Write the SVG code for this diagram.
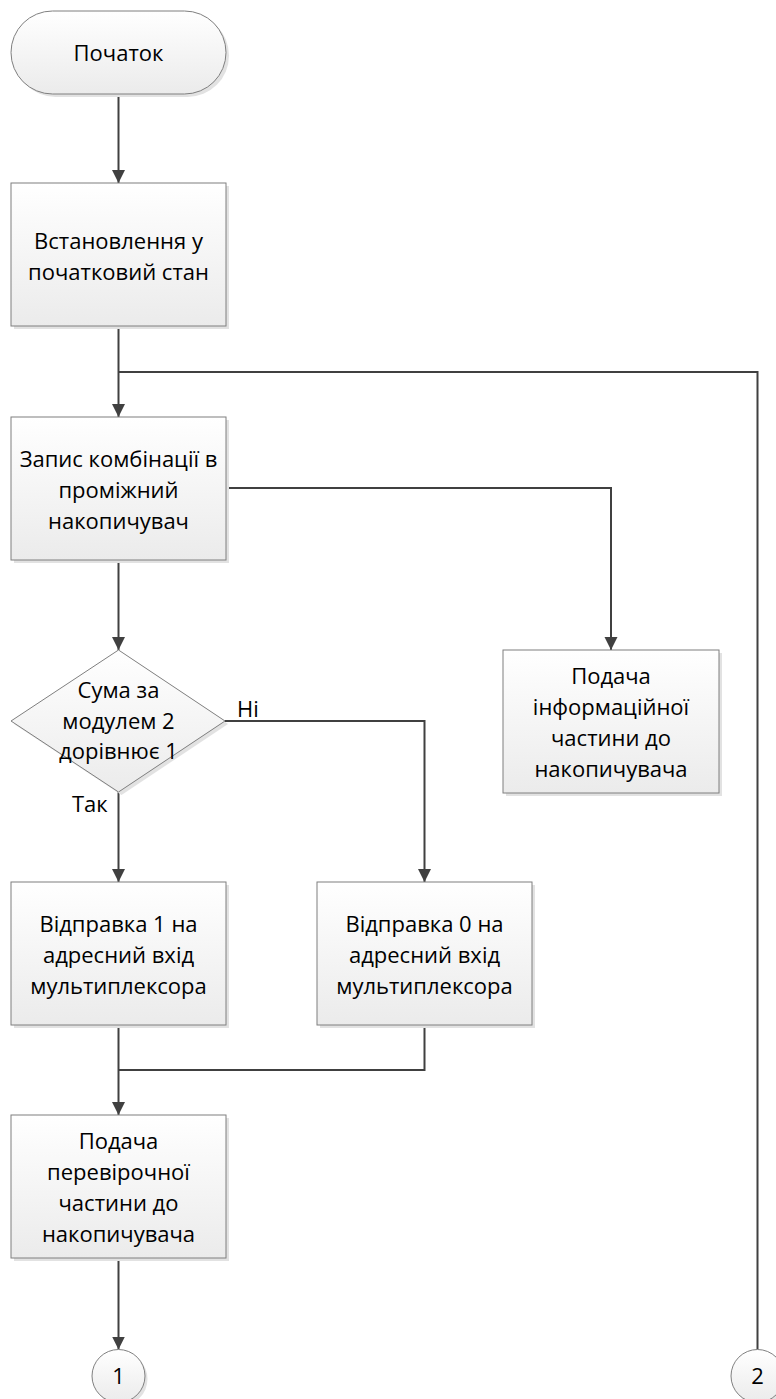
<svg xmlns="http://www.w3.org/2000/svg" width="776" height="1399" viewBox="0 0 776 1399">
  <style>
    .shape { fill: url(#fillGrad); stroke: #7f7f7f; stroke-width: 1; }
    .shadow { fill: #e2e2e2; }
    .label { font-family: "Open Sans", "Noto Sans", sans-serif; font-size: 22px; fill: #000; text-anchor: middle; }
    .tag { font-family: "Open Sans", "Noto Sans", sans-serif; font-size: 22px; fill: #000; }
    .wire { fill: none; stroke: #404040; stroke-width: 2; }
  </style>
  <defs>
    <linearGradient id="fillGrad" x1="0" y1="0" x2="0" y2="1">
      <stop offset="0" stop-color="#ffffff"/>
      <stop offset="1" stop-color="#ebebeb"/>
    </linearGradient>
    <marker id="arrow" markerUnits="userSpaceOnUse" markerWidth="14" markerHeight="14" refX="13" refY="6.5" orient="auto">
      <path d="M0,0 L13,6.5 L0,13 Z" fill="#404040"/>
    </marker>
  </defs>

  <!-- connectors -->
  <g id="connectors">
    <path class="wire" d="M118.5,94 V183" marker-end="url(#arrow)"/>
    <path class="wire" d="M118.5,326 V417" marker-end="url(#arrow)"/>
    <path class="wire" d="M118.5,372 H757.5 V1349.5"/>
    <path class="wire" d="M226,488 H611 V650" marker-end="url(#arrow)"/>
    <path class="wire" d="M118.5,560 V650" marker-end="url(#arrow)"/>
    <path class="wire" d="M225,721 H424.5 V882" marker-end="url(#arrow)"/>
    <path class="wire" d="M118.5,792 V882" marker-end="url(#arrow)"/>
    <path class="wire" d="M424.5,1025 V1070 H118.5"/>
    <path class="wire" d="M118.5,1025 V1115" marker-end="url(#arrow)"/>
    <path class="wire" d="M118.5,1258 V1349.5" marker-end="url(#arrow)"/>
  </g>

  <g id="start">
    <rect class="shadow" x="14" y="14" width="215" height="83" rx="41.5"/>
    <rect class="shape" x="11" y="11" width="215" height="83" rx="41.5"/>
    <text class="label" x="118.5" y="61">Початок</text>
  </g>

  <g id="init">
    <rect class="shadow" x="14" y="186" width="215" height="143"/>
    <rect class="shape" x="11" y="183" width="215" height="143"/>
    <text class="label" x="118.5" y="249">Встановлення у</text>
    <text class="label" x="118.5" y="280">початковий стан</text>
  </g>

  <g id="write">
    <rect class="shadow" x="14" y="420" width="215" height="143"/>
    <rect class="shape" x="11" y="417" width="215" height="143"/>
    <text class="label" x="118.5" y="466.5">Запис комбінації в</text>
    <text class="label" x="118.5" y="497.5">проміжний</text>
    <text class="label" x="118.5" y="528.5">накопичувач</text>
  </g>

  <g id="info">
    <rect class="shadow" x="506" y="653" width="216" height="143"/>
    <rect class="shape" x="503" y="650" width="216" height="143"/>
    <text class="label" x="611" y="684">Подача</text>
    <text class="label" x="611" y="715">інформаційної</text>
    <text class="label" x="611" y="746">частини до</text>
    <text class="label" x="611" y="777">накопичувача</text>
  </g>

  <g id="check">
    <polygon class="shadow" points="121.5,653 228,724 121.5,795 14,724"/>
    <polygon class="shape" points="118.5,650 225,721 118.5,792 11,721"/>
    <text class="label" x="118.5" y="698">Сума за</text>
    <text class="label" x="118.5" y="728.5">модулем 2</text>
    <text class="label" x="118.5" y="759">дорівнює 1</text>
    <text class="tag" x="237" y="717">Ні</text>
    <text class="tag" x="72" y="812">Так</text>
  </g>

  <g id="send1">
    <rect class="shadow" x="14" y="885" width="215" height="143"/>
    <rect class="shape" x="11" y="882" width="215" height="143"/>
    <text class="label" x="118.5" y="932">Відправка 1 на</text>
    <text class="label" x="118.5" y="963">адресний вхід</text>
    <text class="label" x="118.5" y="994">мультиплексора</text>
  </g>

  <g id="send0">
    <rect class="shadow" x="320" y="885" width="215" height="143"/>
    <rect class="shape" x="317" y="882" width="215" height="143"/>
    <text class="label" x="424.5" y="932">Відправка 0 на</text>
    <text class="label" x="424.5" y="963">адресний вхід</text>
    <text class="label" x="424.5" y="994">мультиплексора</text>
  </g>

  <g id="parity">
    <rect class="shadow" x="14" y="1118" width="215" height="143"/>
    <rect class="shape" x="11" y="1115" width="215" height="143"/>
    <text class="label" x="118.5" y="1149">Подача</text>
    <text class="label" x="118.5" y="1180">перевірочної</text>
    <text class="label" x="118.5" y="1211">частини до</text>
    <text class="label" x="118.5" y="1242">накопичувача</text>
  </g>

  <g id="link1">
    <circle class="shadow" cx="121" cy="1379" r="26.5"/>
    <circle class="shape" cx="118.5" cy="1376" r="26.5"/>
    <text class="label" x="118.5" y="1384">1</text>
  </g>

  <g id="link2">
    <circle class="shadow" cx="760" cy="1379" r="26.5"/>
    <circle class="shape" cx="757.5" cy="1376" r="26.5"/>
    <text class="label" x="757.5" y="1384">2</text>
  </g>
</svg>
